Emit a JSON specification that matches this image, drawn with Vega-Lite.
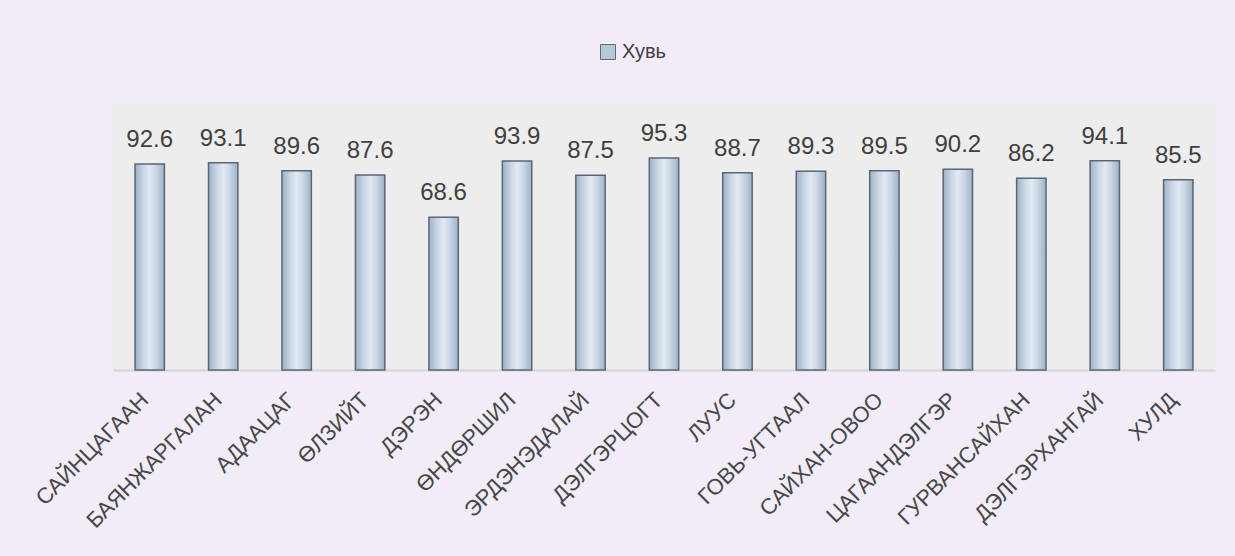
{
  "$schema": "https://vega.github.io/schema/vega-lite/v6.json",
  "width": 1102,
  "height": 267,
  "autosize": {"type": "none"},
  "padding": {"left": 113, "top": 103, "right": 20, "bottom": 186},
  "background": "#f1ecf8",
  "config": {
    "font": "Liberation Sans",
    "view": {"fill": "#ededed", "stroke": null}
  },
  "data": {
    "values": [
      {"name": "САЙНЦАГААН", "value": 92.6},
      {"name": "БАЯНЖАРГАЛАН", "value": 93.1},
      {"name": "АДААЦАГ", "value": 89.6},
      {"name": "ӨЛЗИЙТ", "value": 87.6},
      {"name": "ДЭРЭН", "value": 68.6},
      {"name": "ӨНДӨРШИЛ", "value": 93.9},
      {"name": "ЭРДЭНЭДАЛАЙ", "value": 87.5},
      {"name": "ДЭЛГЭРЦОГТ", "value": 95.3},
      {"name": "ЛУУС", "value": 88.7},
      {"name": "ГОВЬ-УГТААЛ", "value": 89.3},
      {"name": "САЙХАН-ОВОО", "value": 89.5},
      {"name": "ЦАГААНДЭЛГЭР", "value": 90.2},
      {"name": "ГУРВАНСАЙХАН", "value": 86.2},
      {"name": "ДЭЛГЭРХАНГАЙ", "value": 94.1},
      {"name": "ХУЛД", "value": 85.5}
    ]
  },
  "encoding": {
    "x": {
      "field": "name",
      "type": "nominal",
      "sort": null,
      "title": null,
      "scale": {"paddingInner": 0.6, "paddingOuter": 0.3},
      "axis": {
        "labelAngle": -45,
        "labelAlign": "right",
        "labelBaseline": "middle",
        "labelFontSize": 22,
        "labelColor": "#474747",
        "labelPadding": 26,
        "labelOffset": -5,
        "labelLimit": 400,
        "ticks": false,
        "domainColor": "#d4d4d4",
        "domainWidth": 2,
        "grid": false
      }
    },
    "y": {
      "field": "value",
      "type": "quantitative",
      "scale": {"domain": [0, 120]},
      "axis": null
    }
  },
  "layer": [
    {
      "mark": {"type": "bar"},
      "encoding": {
        "color": {
          "datum": "Хувь",
          "scale": {"range": ["#b7c6d8"]},
          "legend": {
            "title": null,
            "orient": "none",
            "legendX": 485,
            "legendY": -61,
            "symbolType": "square",
            "symbolSize": 225,
            "symbolStrokeColor": "#5f6b78",
            "symbolStrokeWidth": 1,
            "labelFontSize": 20,
            "labelColor": "#404040",
            "labelOffset": 4
          }
        }
      }
    },
    {
      "mark": {
        "type": "bar",
        "stroke": "#5a6675",
        "strokeWidth": 1.5,
        "fill": {
          "gradient": "linear",
          "x1": 0, "y1": 0, "x2": 1, "y2": 0,
          "stops": [
            {"offset": 0, "color": "#9fb2c8"},
            {"offset": 0.3, "color": "#cbd8e6"},
            {"offset": 0.5, "color": "#e2e9f2"},
            {"offset": 0.7, "color": "#cbd8e6"},
            {"offset": 1, "color": "#9fb2c8"}
          ]
        }
      }
    },
    {
      "mark": {
        "type": "text",
        "baseline": "alphabetic",
        "dy": -17,
        "fontSize": 24,
        "color": "#404040"
      },
      "encoding": {
        "text": {"field": "value", "type": "quantitative", "format": ".1f"}
      }
    }
  ]
}
